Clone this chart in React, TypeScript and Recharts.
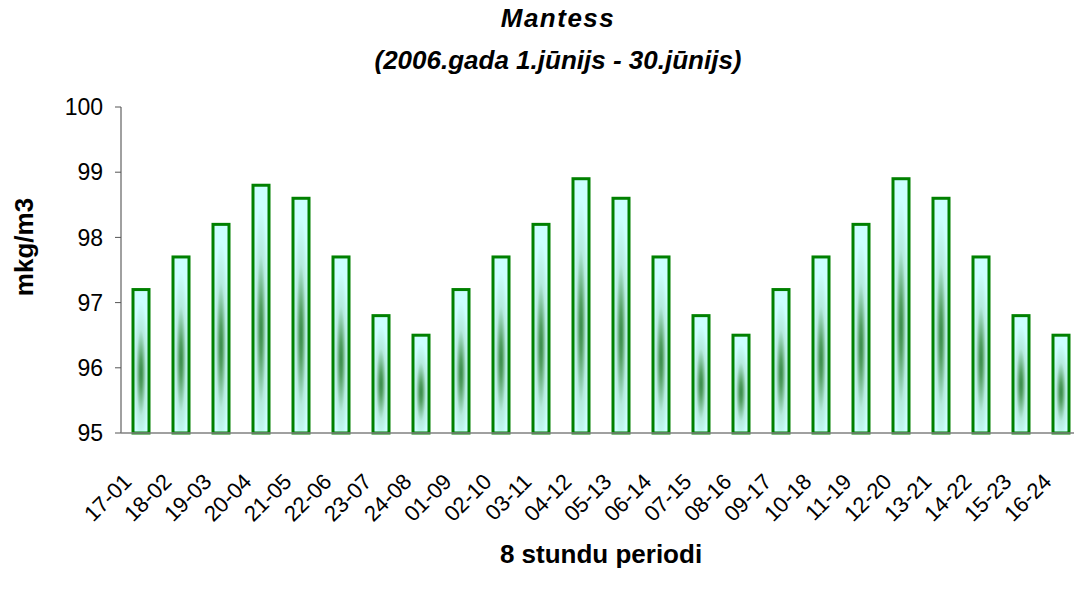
import React from 'react';
import { BarChart, Bar, XAxis, YAxis } from 'recharts';

const periods = [
  '17-01', '18-02', '19-03', '20-04', '21-05', '22-06', '23-07', '24-08',
  '01-09', '02-10', '03-11', '04-12', '05-13', '06-14', '07-15', '08-16',
  '09-17', '10-18', '11-19', '12-20', '13-21', '14-22', '15-23', '16-24',
];
const values = [
  97.2, 97.7, 98.2, 98.8, 98.6, 97.7, 96.8, 96.5,
  97.2, 97.7, 98.2, 98.9, 98.6, 97.7, 96.8, 96.5,
  97.2, 97.7, 98.2, 98.9, 98.6, 97.7, 96.8, 96.5,
];
const yTicks = [95, 96, 97, 98, 99, 100];
const titleText = 'Mantess';
const subtitleText = '(2006.gada 1.jūnijs - 30.jūnijs)';
const yAxisTitle = 'mkg/m3';
const xAxisTitle = '8 stundu periodi';

const data = periods.map((p, i) => ({ period: p, value: values[i] }));
const boundaryTicks = [...periods.map((_, i) => i), periods.length];

const FONT = '"Liberation Sans", Arial, sans-serif';

const XTick = (props: any) => {
  const { x, y, payload } = props;
  const ax = x - 8;
  const ay = y + 36;
  return (
    <text
      x={ax}
      y={ay}
      transform={`rotate(-45, ${ax}, ${ay})`}
      textAnchor="end"
      fontFamily={FONT}
      fontSize={22}
      fill="#000"
    >
      {payload.value}
    </text>
  );
};

const BarShape = (props: any) => {
  const { x, y, width, height } = props;
  return (
    <rect
      x={x}
      y={y}
      width={width}
      height={height}
      fill="url(#barGrad)"
      stroke="#008000"
      strokeWidth={3}
    />
  );
};

export default function App() {
  return (
    <div
      style={{
        position: 'absolute',
        left: 0,
        top: 0,
        width: 1074,
        height: 590,
        overflow: 'hidden',
        background: '#fff',
      }}
    >
      <BarChart
        width={1090}
        height={590}
        data={data}
        margin={{ top: 107, right: 9, left: 0, bottom: 0 }}
        barCategoryGap={0}
      >
        <defs>
          <radialGradient id="barGrad" cx="0.5" cy="0.58" r="0.5">
            <stop offset="0" stopColor="#368a48" />
            <stop offset="0.2" stopColor="#53a062" />
            <stop offset="0.6" stopColor="#b4e9dd" />
            <stop offset="1" stopColor="#ccffff" />
          </radialGradient>
        </defs>
        <XAxis
          xAxisId="a"
          type="number"
          domain={[0, periods.length]}
          ticks={boundaryTicks}
          interval={0}
          tick={false}
          tickLine={{ stroke: '#555' }}
          tickSize={6}
          axisLine={{ stroke: '#808080', strokeWidth: 1.5 }}
          height={6}
        />
        <XAxis
          xAxisId="b"
          dataKey="period"
          interval={0}
          tick={<XTick />}
          tickLine={false}
          axisLine={false}
          height={151}
        />
        <YAxis
          domain={[95, 100]}
          ticks={yTicks}
          interval={0}
          width={121}
          tickSize={6}
          tickMargin={12}
          tick={{ fontFamily: FONT, fontSize: 23, fill: '#000' }}
          tickLine={{ stroke: '#555' }}
          axisLine={{ stroke: '#808080', strokeWidth: 1.5 }}
        />
        <Bar
          xAxisId="b"
          dataKey="value"
          barSize={16}
          shape={<BarShape />}
          isAnimationActive={false}
        />
      </BarChart>
      <svg
        width={1074}
        height={590}
        style={{ position: 'absolute', left: 0, top: 0, pointerEvents: 'none' }}
      >
        <text
          x={558}
          y={27}
          textAnchor="middle"
          fontFamily={FONT}
          fontSize={26}
          fontWeight="bold"
          fontStyle="italic"
          letterSpacing={1.5}
        >
          {titleText}
        </text>
        <text
          x={558}
          y={69}
          textAnchor="middle"
          fontFamily={FONT}
          fontSize={26}
          fontWeight="bold"
          fontStyle="italic"
        >
          {subtitleText}
        </text>
        <text
          x={33}
          y={247}
          transform="rotate(-90, 33, 247)"
          textAnchor="middle"
          fontFamily={FONT}
          fontSize={26}
          fontWeight="bold"
        >
          {yAxisTitle}
        </text>
        <text
          x={601}
          y={563}
          textAnchor="middle"
          fontFamily={FONT}
          fontSize={26}
          fontWeight="bold"
        >
          {xAxisTitle}
        </text>
      </svg>
    </div>
  );
}
